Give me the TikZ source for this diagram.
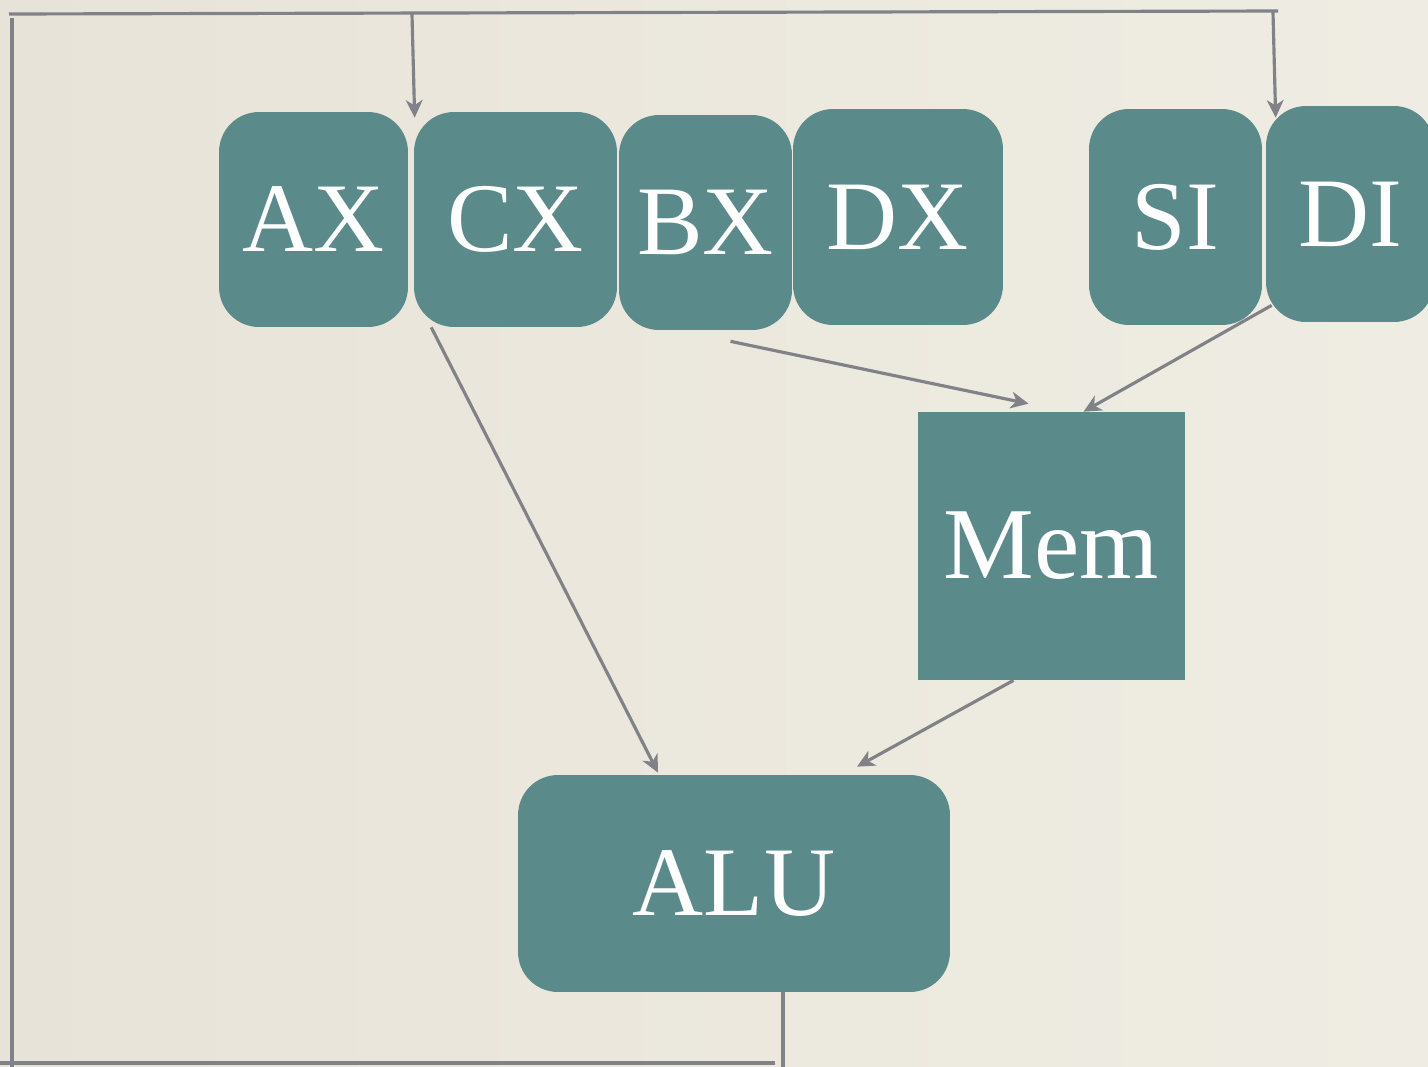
\documentclass[tikz,border=0pt]{standalone}
\usepackage{fontspec}
\setmainfont{Liberation Serif}
\usetikzlibrary{arrows.meta}
\definecolor{paper}{HTML}{EFEDE3}
\definecolor{paperdark}{HTML}{E8E3D9}
\definecolor{teal}{HTML}{5B8A8B}
\definecolor{wire}{HTML}{808287}
\begin{document}
\begin{tikzpicture}[x=0.02cm,y=-0.02cm,
reg/.style={fill=teal,text=white,rounded corners=0.8cm,inner sep=0pt,
  font=\fontsize{56}{60}\selectfont},
flow/.style={draw=wire,line width=1.8pt},
arr/.style={flow,-{Stealth[length=10pt,width=9.5pt,inset=3pt]}}]
\useasboundingbox (0,0) rectangle (1428,1066);
\shade[left color=paperdark,right color=paper] (0,0) rectangle (1428,1066);
% registers
\node[reg,minimum width=3.78cm,minimum height=4.3cm] (AX) at (313.5,219.5) {AX};
\node[reg,minimum width=4.06cm,minimum height=4.3cm] (CX) at (515.5,219.5) {CX};
\node[reg,minimum width=3.46cm,minimum height=4.3cm] (BX) at (705.5,222.5) {BX};
\node[reg,minimum width=4.2cm,minimum height=4.32cm] (DX) at (898,217) {DX};
\node[reg,minimum width=3.46cm,minimum height=4.32cm] (SI) at (1175.5,217) {SI};
\node[reg,minimum width=3.36cm,minimum height=4.32cm] (DI) at (1350,214) {DI};
% memory and alu
\node[reg,rounded corners=0pt,minimum width=5.34cm,minimum height=5.36cm,
  font=\fontsize{58}{62}\selectfont] (Mem) at (1051.5,546) {Mem};
\node[reg,minimum width=8.64cm,minimum height=4.34cm] (ALU) at (734,883.5) {ALU};
% feedback loop
\coordinate (tl) at (9,14);
\coordinate (tr) at (1278,11);
\coordinate (bl) at (-10,1063);
\coordinate (br) at (775,1063);
\coordinate (lb) at (12,1080);
\coordinate (lt) at (12,18);
\draw[flow] ([shift={(49,0)}]ALU.south) -- ++(0,90);
\draw[flow] (br) -- (bl);
\draw[flow] (lb) -- (lt);
\draw[flow] (tl) -- (tr);
\draw[arr] (412,14) -- ([shift={(1,6)}]CX.north west);
\draw[arr] (1273,12) -- ([shift={(10,12)}]DI.north west);
% data paths
\draw[arr] (CX.232) -- ([shift={(-76,-2)}]ALU.north);
\draw[arr] ([shift={(25,11)}]BX.south) -- ([shift={(-23,-8)}]Mem.north);
\draw[arr] ([shift={(6,-17)}]DI.south west) -- ([shift={(32,0)}]Mem.north);
\draw[arr] ([shift={(-38,0)}]Mem.south) -- ([shift={(123,-8)}]ALU.north);
\end{tikzpicture}
\end{document}
